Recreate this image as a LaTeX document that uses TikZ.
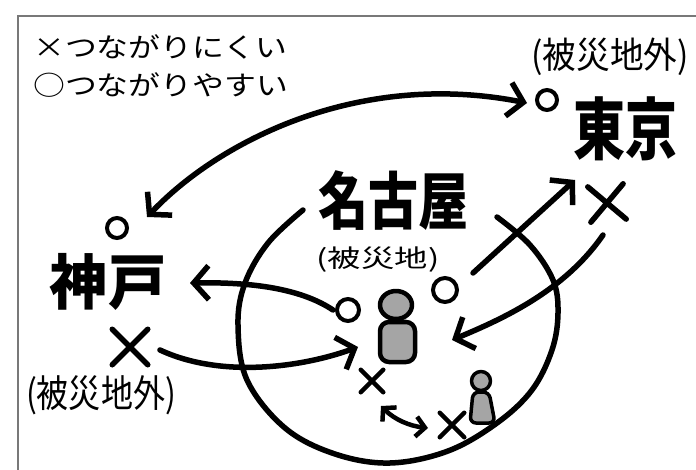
\documentclass[tikz,border=0pt]{standalone}
\usepackage{fontspec}
\newfontfamily\jp{Noto Sans CJK JP}
\usetikzlibrary{arrows.meta,shapes.misc}
\definecolor{framegray}{RGB}{120,120,120}
\definecolor{personfill}{RGB}{165,165,165}
\begin{document}
\begin{tikzpicture}[x=1pt,y=-1pt,
  ink/.style={line width=5.5pt,line cap=round,line join=round},
  arr/.style={ink,-{Straight Barb[length=15pt,width=34pt]}},
  darr/.style={ink,{Straight Barb[length=15pt,width=34pt]}-{Straight Barb[length=15pt,width=34pt]}},
  sarr/.style={line width=4.5pt,line cap=round,{Straight Barb[length=9pt,width=20pt]}-{Straight Barb[length=9pt,width=20pt]}},
  xmark/.style={cross out,draw,line width=5.5pt,inner sep=0pt,line cap=round},
  omark/.style={circle,draw,line width=4pt,inner sep=0pt},
  legend/.style={anchor=west,inner sep=0pt,font=\jp\fontsize{27}{27}\selectfont},
  city/.style={inner sep=0pt,font=\jp\bfseries},
  note/.style={inner sep=0pt,font=\jp},
  person/.style={line width=4.5pt,fill=personfill,line join=round}
]
\useasboundingbox (0,0) rectangle (696,470);
\fill[white] (0,0) rectangle (696,470);
% frame
\draw[framegray,line width=2.5pt] (18,470) -- (18,16) -- (696,16);

% legend
\node[legend] (l1) at (33,47) {\scalebox{1.18}[1]{×つながりにくい}};
\node[legend] (l2) at (33,85) {\scalebox{1.18}[1]{○つながりやすい}};

% Nagoya circle (open at top)
\draw[ink] plot[smooth,tension=0.6] coordinates {(303,210) (268,243) (245,283) (238,325) (247,380) (285,428) (335,454) (390,463) (448,451) (497,423) (532,390) (552,350) (558,313) (553,280) (530,245) (497,217)};

% city names
\node[city] (nagoya) at (393,201) {\fontsize{50}{50}\selectfont\scalebox{1}[1.25]{名古屋}};
\node[note] (nagoyanote) at (378,260) {\fontsize{29}{29}\selectfont\scalebox{1.15}[0.85]{(被災地)}};
\node[city] (tokyo) at (625,129) {\fontsize{52}{52}\selectfont\scalebox{1}[1.3]{東京}};
\node[note] (tokyonote) at (610,57) {\fontsize{33}{33}\selectfont\scalebox{1.02}[1.1]{(被災地外)}};
\node[city] (kobe) at (108,282) {\fontsize{57}{57}\selectfont\scalebox{1.02}[1.05]{神戸}};
\node[note] (kobenote) at (101,395) {\fontsize{33}{33}\selectfont\scalebox{0.97}[1.15]{(被災地外)}};

% marks
\node[omark,minimum size=20pt] (to) at (547,100) {};
\node[xmark,minimum size=30pt,rotate=5] (tx) at (607,203) {};
\node[omark,minimum size=20pt] (ko) at (117,228) {};
\node[xmark,minimum size=30pt] (kx) at (130,347) {};
\node[omark,minimum size=22pt] (no1) at (348,310) {};
\node[omark,minimum size=24pt] (no2) at (445,290) {};
\node[xmark,minimum size=18pt,line width=4.5pt] (nx1) at (372,381) {};
\node[xmark,minimum size=20pt,line width=4.5pt] (nx2) at (452,425) {};

% persons
\draw[person,rounded corners=9pt] (380,362) -- (380,322) -- (415,322) -- (415,362) -- cycle;
\draw[person] (396,305) ellipse [x radius=16, y radius=14];
\node[inner sep=0pt,minimum size=0pt] (p1) at (397,335) {};
\draw[person,line width=3.5pt,rounded corners=6pt] (470,423) -- (473,392) -- (489,392) -- (495,423) -- cycle;
\draw[person,line width=3.5pt] (481,381) circle [radius=9.5];
\node[inner sep=0pt,minimum size=0pt] (p2) at (482,405) {};

% connector end points
\coordinate (bigA) at (147,217);
\coordinate (bigB) at (527,103);
\coordinate (n2t0) at (473,273);
\coordinate (n2t1) at (575,180);
\coordinate (t2n0) at (603,235);
\coordinate (t2n1) at (452,340);
\coordinate (n2k0) at (333,310);
\coordinate (n2k1) at (190,283);
\coordinate (k2n0) at (160,350);
\coordinate (k2n1) at (358,347);
\coordinate (s0) at (381,406);
\coordinate (s1) at (428,428);

% connectors
\draw[darr] (bigA) .. controls (220,140) and (360,70) .. (bigB);
\draw[arr] (n2t0) -- (n2t1);
\draw[arr] (t2n0) .. controls (565,290) and (505,318) .. (t2n1);
\draw[arr] (n2k0) .. controls (300,288) and (250,282) .. (n2k1);
\draw[arr] (k2n0) .. controls (220,378) and (300,368) .. (k2n1);
\draw[sarr] (s0) .. controls (395,420) and (410,426) .. (s1);
\end{tikzpicture}
\end{document}
